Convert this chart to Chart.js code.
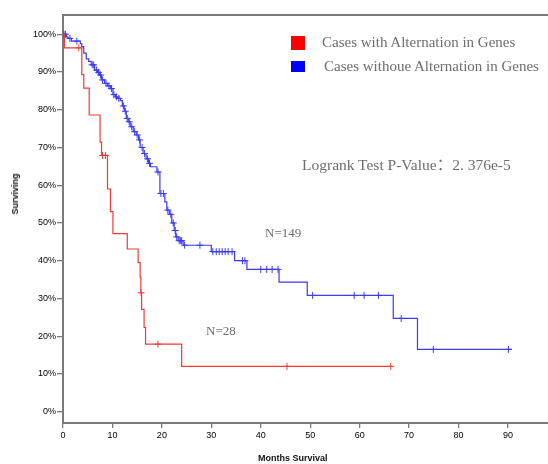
<!DOCTYPE html>
<html>
<head>
<meta charset="utf-8">
<script src="https://cdn.jsdelivr.net/npm/chart.js@4/dist/chart.umd.min.js"></script>
<style>
  html, body { margin: 0; padding: 0; background: #fff; }
  #wrap { position: relative; width: 548px; height: 464px; overflow: hidden; }
  #km { position: absolute; left: 0; top: 0; }
  .note { position: absolute; white-space: nowrap; font-family: "Liberation Serif", "Times New Roman", "Noto Sans CJK SC", serif; color: #6e6e6e; }
  .axis-title { position: absolute; white-space: nowrap; font: bold 9px "Liberation Sans", Arial, sans-serif; color: #111; }
  .swatch { position: absolute; }
</style>
</head>
<body>
<div id="wrap">
  <canvas id="km" width="548" height="464"></canvas>
  <div class="swatch" style="left:291px;top:36px;width:14px;height:14px;background:#ff0000"></div>
  <div class="note" id="leg-red" style="left:322px;top:33px;font-size:15px;line-height:19px"></div>
  <div class="swatch" style="left:291px;top:61px;width:14px;height:11px;background:#0000ff"></div>
  <div class="note" id="leg-blue" style="left:324px;top:57px;font-size:15px;line-height:19px"></div>
  <div class="note" id="pval" style="left:302px;top:155px;font-size:15.5px;line-height:19px"></div>
  <div class="note" id="n-blue" style="left:265px;top:224px;font-size:13px;line-height:17px"></div>
  <div class="note" id="n-red" style="left:206px;top:322px;font-size:13px;line-height:17px"></div>
  <div class="axis-title" id="x-title" style="left:258px;top:452px;line-height:12px"></div>
  <div class="axis-title" id="y-title" style="left:15px;top:194px;line-height:12px;transform:translate(-50%,-50%) rotate(-90deg)"></div>
</div>
<script>
// ---- data ------------------------------------------------------------------
const redLabel = 'Cases with Alternation in Genes';
const blueLabel = 'Cases withoue Alternation in Genes';
const pValueText = 'Logrank Test P-Value：2. 376e-5';
const redN = 'N=28';
const blueN = 'N=149';
const xTitle = 'Months Survival';
const yTitle = 'Surviving';

const xTicks = [0, 10, 20, 30, 40, 50, 60, 70, 80, 90];
const yTicks = [0, 10, 20, 30, 40, 50, 60, 70, 80, 90, 100];

// altered group: step points (month, % surviving)
const redTimes = [0, 0.3, 3.8, 4.2, 5.3, 7.5, 7.8, 9.0, 9.6, 10.1, 13.0, 15.2, 15.6, 15.75, 15.9, 16.4, 16.7, 24.0, 66.6];
const redSurv = [100, 96.4, 89.3, 85.7, 78.6, 71.4, 67.9, 59.0, 53.0, 47.2, 43.1, 39.5, 35.6, 31.5, 27.1, 22.3, 17.9, 12.0, 12.0];
const redCensorTimes = [3.2, 8.0, 8.6, 15.8, 19.2, 45.3, 66.3];
const redCensorSurv = [96.4, 67.9, 67.9, 31.5, 17.9, 12.0, 12.0];

// unaltered group
const blueTimes = [0, 0.7, 1.0, 1.7, 3.5, 3.8, 4.2, 4.7, 5.2, 5.7, 6.4, 7.0, 7.4, 7.8, 8.4, 9.0, 9.6, 10.1, 10.6, 11.1,
  11.6, 12.0, 12.4, 12.8, 13.2, 13.6, 14.2, 14.8, 15.3, 15.6, 16.2, 16.8, 17.3, 17.7, 19.0, 19.6, 20.6, 21.0, 21.5, 22.0,
  22.5, 22.8, 23.3, 24.3, 30.0, 34.7, 37.2, 43.7, 49.4, 66.8, 71.7, 90.8];
const blueSurv = [100, 99.3, 98.9, 98.2, 97.5, 96.7, 95.0, 93.5, 92.8, 91.9, 90.5, 89.9, 89.2, 87.9, 87.0, 86.3, 85.6, 84.0, 83.4, 83.0,
  82.4, 81.0, 79.6, 77.7, 76.8, 75.5, 74.2, 73.3, 72.0, 70.0, 68.4, 67.0, 65.8, 64.9, 63.5, 57.8, 55.6, 53.4, 52.3, 50.0,
  48.0, 46.3, 45.3, 44.1, 42.4, 40.0, 37.7, 34.3, 30.8, 24.7, 16.5, 16.5];
const blueCensorTimes = [0.2, 0.5, 1.4, 2.8, 5.9, 6.2, 6.8, 7.2, 7.6, 8.0, 8.7, 9.3, 9.8, 10.3, 10.8, 11.3, 12.2, 12.6, 13.0, 13.4,
  13.9, 14.5, 15.0, 15.5, 16.0, 16.5, 17.1, 17.5, 19.2, 19.8, 20.3, 21.2, 21.8, 22.3, 22.7, 23.0, 23.5, 23.8, 24.0, 24.6,
  27.7, 30.3, 31.0, 31.6, 32.2, 32.8, 33.4, 34.2, 36.3, 36.8, 40.0, 41.2, 42.3, 43.5, 50.5, 58.9, 60.9, 63.8, 68.4, 74.9, 90.1];
const blueCensorSurv = [100, 100, 98.9, 98.2, 91.9, 91.9, 90.5, 89.9, 89.2, 87.9, 87.0, 86.3, 85.6, 84.0, 83.4, 83.0, 81.0, 79.6, 77.7, 76.8,
  75.5, 74.2, 73.3, 72.0, 70.0, 68.4, 67.0, 65.8, 63.5, 57.8, 57.8, 53.4, 52.3, 50.0, 48.0, 46.3, 45.3, 45.3, 45.3, 44.1,
  44.1, 42.4, 42.4, 42.4, 42.4, 42.4, 42.4, 42.4, 40.0, 40.0, 37.7, 37.7, 37.7, 37.7, 30.8, 30.8, 30.8, 30.8, 24.7, 16.5, 16.5];

// ---- text ------------------------------------------------------------------
document.getElementById('leg-red').textContent = redLabel;
document.getElementById('leg-blue').textContent = blueLabel;
document.getElementById('pval').textContent = pValueText;
document.getElementById('n-red').textContent = redN;
document.getElementById('n-blue').textContent = blueN;
document.getElementById('x-title').textContent = xTitle;
document.getElementById('y-title').textContent = yTitle;

// ---- chart -----------------------------------------------------------------
const RED = '#f03a3a';
const BLUE = '#3b3bf2';
const AXIS = '#7a7a7a';

const pts = (xs, ys) => xs.map((x, i) => ({ x, y: ys[i] }));

function curve(xs, ys, color) {
  return {
    data: pts(xs, ys),
    showLine: true,
    stepped: true,
    borderColor: color,
    borderWidth: 1.2,
    pointRadius: 0,
    fill: false,
  };
}
function censors(xs, ys, color) {
  return {
    data: pts(xs, ys),
    showLine: false,
    pointStyle: 'cross',
    pointRadius: 3.5,
    pointBorderWidth: 1,
    pointBorderColor: color,
    pointBackgroundColor: color,
  };
}

const tickFont = { family: '"Liberation Sans", Arial, sans-serif', size: 9 };

new Chart(document.getElementById('km'), {
  type: 'scatter',
  data: {
    datasets: [
      curve(redTimes, redSurv, RED),
      censors(redCensorTimes, redCensorSurv, RED),
      curve(blueTimes, blueSurv, BLUE),
      censors(blueCensorTimes, blueCensorSurv, BLUE),
    ],
  },
  options: {
    responsive: false,
    animation: false,
    layout: { padding: 0, autoPadding: false },
    plugins: { legend: { display: false }, tooltip: { enabled: false } },
    scales: {
      x: {
        type: 'linear',
        min: 0,
        max: 98.1,
        afterBuildTicks: (s) => { s.ticks = xTicks.map((v) => ({ value: v })); },
        afterFit: (s) => { s.height = 41; s.paddingRight = 0; s.paddingLeft = 0; },
        grid: { drawOnChartArea: false, drawTicks: true, tickLength: 5, color: AXIS, lineWidth: 1.3 },
        border: { color: AXIS, width: 2 },
        ticks: { font: tickFont, color: '#000', padding: 2, maxRotation: 0 },
      },
      xTop: {
        type: 'linear',
        position: 'top',
        afterFit: (s) => { s.height = 15; s.paddingRight = 0; s.paddingLeft = 0; },
        grid: { display: false },
        border: { color: AXIS, width: 2 },
        ticks: { display: false },
      },
      y: {
        type: 'linear',
        min: -3,
        max: 105.1,
        afterBuildTicks: (s) => { s.ticks = yTicks.map((v) => ({ value: v })); },
        afterFit: (s) => { s.width = 63; s.paddingTop = 0; s.paddingBottom = 0; },
        grid: { drawOnChartArea: false, drawTicks: true, tickLength: 6, color: AXIS, lineWidth: 1.3 },
        border: { color: AXIS, width: 2 },
        ticks: { font: tickFont, color: '#000', padding: 1, callback: (v) => `${v}%` },
      },
    },
  },
});
</script>
</body>
</html>
